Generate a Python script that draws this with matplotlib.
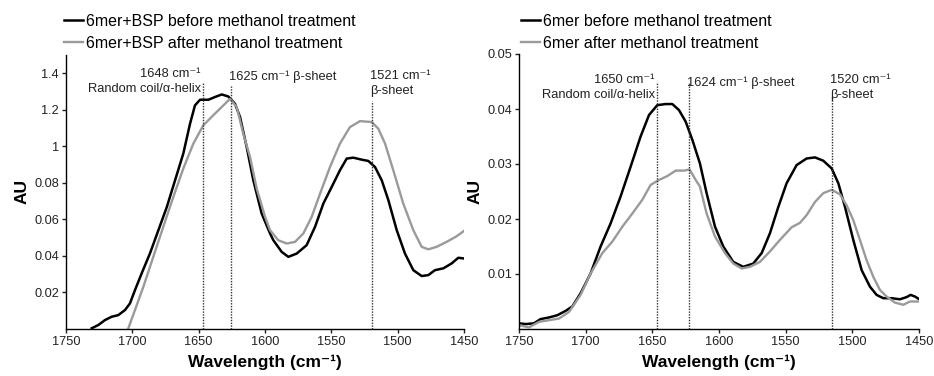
import matplotlib
matplotlib.use("Agg")
import matplotlib.pyplot as plt

plt.rcParams['font.family'] = ['Liberation Sans', 'DejaVu Sans']

# left panel: 6mer+BSP (y values = printed value / 10 above 0.08, tick labels keep the printed text)
bsp_before_x = [1730.6, 1725.6, 1720.6, 1715.6, 1710.6, 1705.5, 1701.8, 1698, 1693, 1686.7,
                1680.4, 1674, 1667.8, 1661.6, 1656.5, 1652.8, 1649, 1642.7, 1637.7, 1632.6,
                1627.7, 1622.6, 1618.8, 1613.8, 1608.8, 1602.5, 1596.2, 1593.7, 1587.4, 1582.4,
                1576.1, 1568.6, 1562.3, 1556, 1549.7, 1543.5, 1538.4, 1533.4, 1527.1, 1522.1,
                1517.1, 1512, 1507, 1500.7, 1494.5, 1488.2, 1481.9, 1476.9, 1471.9, 1465.6,
                1459.3, 1454.3, 1450]
bsp_before_y = [0.0004, 0.0022, 0.0049, 0.0067, 0.0076, 0.0104, 0.014, 0.0213, 0.0304, 0.0414,
                0.054, 0.0668, 0.0814, 0.096, 0.1124, 0.1224, 0.1255, 0.1255, 0.127, 0.1284,
                0.1273, 0.1233, 0.116, 0.0996, 0.0814, 0.0632, 0.0523, 0.0486, 0.0422, 0.0395,
                0.0413, 0.0459, 0.0559, 0.0687, 0.0778, 0.0869, 0.0933, 0.0938, 0.0927, 0.092,
                0.0887, 0.0814, 0.0705, 0.0541, 0.0413, 0.0322, 0.029, 0.0295, 0.0322, 0.0332,
                0.0359, 0.039, 0.0386]
bsp_after_x = [1703, 1698, 1691.7, 1684.2, 1676.7, 1669.1, 1661.6, 1654, 1646.5, 1639,
               1631.4, 1626.4, 1621.3, 1616.4, 1611.3, 1606.3, 1600, 1596.2, 1590, 1583.6,
               1577.4, 1571.1, 1564.8, 1558.5, 1551, 1543.5, 1536, 1528.4, 1519.6, 1514.6,
               1509.5, 1503.3, 1495.8, 1488.2, 1481.9, 1476.9, 1470.6, 1463.1, 1455.5, 1450]
bsp_after_y = [0.0004, 0.0104, 0.0231, 0.0395, 0.0559, 0.0723, 0.0878, 0.1015, 0.1115, 0.117,
               0.1224, 0.126, 0.1215, 0.107, 0.0942, 0.077, 0.0615, 0.0541, 0.0486, 0.0468,
               0.0477, 0.0523, 0.0614, 0.0741, 0.0887, 0.1015, 0.1105, 0.1138, 0.1133, 0.1097,
               0.1015, 0.0869, 0.0687, 0.0541, 0.045, 0.0436, 0.045, 0.0477, 0.0508, 0.0537]
left_yticks = [0.02, 0.04, 0.06, 0.08, 0.10, 0.12, 0.14]
left_ylabels = ['0.02', '0.04', '0.06', '0.08', '1', '1.2', '1.4']

# right panel: 6mer
mer_before_x = [1750, 1745, 1738.8, 1733.8, 1727.5, 1721.3, 1715, 1710, 1703.8, 1696.3,
                1688.8, 1681.3, 1673.8, 1666.3, 1658.8, 1652.5, 1646.3, 1640, 1635, 1630,
                1625, 1620, 1614.3, 1609.3, 1603, 1596.8, 1589.3, 1581.8, 1574.3, 1568,
                1561.8, 1555.5, 1549.3, 1541.8, 1534.3, 1528, 1521.8, 1515.5, 1510.5, 1505.5,
                1499.3, 1493, 1486.8, 1481.8, 1476.8, 1470.5, 1464.3, 1459.3, 1456.3, 1453, 1449.8]
mer_before_y = [0.00103, 0.0009, 0.00103, 0.0018, 0.0021, 0.0025, 0.0033, 0.0041, 0.0065, 0.0101,
                0.015, 0.0192, 0.0241, 0.0295, 0.035, 0.0389, 0.0407, 0.0409, 0.0409, 0.0398,
                0.0377, 0.0344, 0.0301, 0.0247, 0.0186, 0.015, 0.0122, 0.0113, 0.0119, 0.0138,
                0.0174, 0.0222, 0.0265, 0.0298, 0.031, 0.0312, 0.0306, 0.0292, 0.0265, 0.0222,
                0.0162, 0.0107, 0.0077, 0.0062, 0.0056, 0.0056, 0.0054, 0.0058, 0.0062, 0.0059, 0.0054]
mer_after_x = [1750, 1742.5, 1735, 1727.5, 1720, 1712.5, 1703.8, 1696.3, 1687.5, 1680,
               1672.5, 1665, 1657.5, 1651.3, 1645, 1638.8, 1632.5, 1626.3, 1622, 1617.5,
               1614.3, 1609.3, 1603, 1595.5, 1589.3, 1583, 1576.8, 1569.3, 1561.8, 1554.3,
               1545.5, 1539.3, 1534.3, 1528, 1521.8, 1515.5, 1509.3, 1504.3, 1499.3, 1494.3,
               1489.3, 1484.3, 1479.3, 1474.3, 1468, 1461.8, 1456.8, 1449.8]
mer_after_y = [0.0007, 0.0003, 0.0013, 0.0016, 0.0019, 0.0031, 0.0062, 0.0101, 0.0138, 0.0159,
               0.0186, 0.021, 0.0235, 0.0262, 0.0271, 0.0278, 0.0288, 0.0288, 0.029, 0.0271,
               0.0259, 0.021, 0.0168, 0.0138, 0.0119, 0.011, 0.0113, 0.0122, 0.0141, 0.0162,
               0.0185, 0.0193, 0.0207, 0.0231, 0.0247, 0.0253, 0.0245, 0.0225, 0.0198, 0.0162,
               0.0125, 0.0095, 0.0071, 0.0059, 0.0048, 0.0044, 0.005, 0.005]
right_yticks = [0.01, 0.02, 0.03, 0.04, 0.05]
right_ylabels = ['0.01', '0.02', '0.03', '0.04', '0.05']

xticks = [1750, 1700, 1650, 1600, 1550, 1500, 1450]

# marker lines: (where drawn, top of line)
left_marks = [(1647, 0.135), (1626, 0.133), (1519, 0.125)]
right_marks = [(1646.5, 0.0449), (1622.5, 0.0449), (1515, 0.0422)]

fig = plt.figure(figsize=(9.34, 3.76), dpi=100)
axL = fig.add_axes([66 / 934, 47 / 376, 398 / 934, 274 / 376])
axR = fig.add_axes([519 / 934, 47 / 376, 400 / 934, 275 / 376])

grey = '#9a9a9a'
for ax in (axL, axR):
    ax.spines['top'].set_visible(False)
    ax.spines['right'].set_visible(False)
    ax.spines['left'].set_linewidth(1.0)
    ax.spines['bottom'].set_linewidth(1.0)
    ax.set_xlim(1750, 1450)
    ax.set_xticks(xticks)
    ax.tick_params(labelsize=9.2, length=3, width=1, pad=2, colors='#222222')
    ax.set_xlabel('Wavelength (cm⁻¹)', fontsize=12.5, fontweight='bold', labelpad=5)
    ax.set_ylabel('AU', fontsize=12.5, fontweight='bold', labelpad=3)

l1, = axL.plot(bsp_before_x, bsp_before_y, color='black', lw=1.8)
l2, = axL.plot(bsp_after_x, bsp_after_y, color=grey, lw=1.7)
axL.set_ylim(0, 0.15)
axL.set_yticks(left_yticks)
axL.set_yticklabels(left_ylabels)

r1, = axR.plot(mer_before_x, mer_before_y, color='black', lw=1.8)
r2, = axR.plot(mer_after_x, mer_after_y, color=grey, lw=1.7)
axR.set_ylim(0, 0.05)
axR.set_yticks(right_yticks)
axR.set_yticklabels(right_ylabels)

for x, top in left_marks:
    axL.plot([x, x], [0, top], color='#333333', lw=1, ls=(0, (1, 1)))
for x, top in right_marks:
    axR.plot([x, x], [0, top], color='#333333', lw=1, ls=(0, (1, 1)))

ann = dict(fontsize=9.3, color='#222222')
axL.text(1648.5, 0.1395, '1648 cm⁻¹', ha='right', va='center', **ann)
axL.text(1648.5, 0.1315, 'Random coil/α-helix', ha='right', va='center', **ann)
axL.text(1627, 0.138, '1625 cm⁻¹ β-sheet', ha='left', va='center', **ann)
axL.text(1521, 0.1385, '1521 cm⁻¹', ha='left', va='center', **ann)
axL.text(1521, 0.1305, 'β-sheet', ha='left', va='center', **ann)

axR.text(1648, 0.0452, '1650 cm⁻¹', ha='right', va='center', **ann)
axR.text(1648, 0.0425, 'Random coil/α-helix', ha='right', va='center', **ann)
axR.text(1624, 0.0447, '1624 cm⁻¹ β-sheet', ha='left', va='center', **ann)
axR.text(1516.5, 0.0452, '1520 cm⁻¹', ha='left', va='center', **ann)
axR.text(1516.5, 0.0425, 'β-sheet', ha='left', va='center', **ann)

legkw = dict(loc='upper left', frameon=False, fontsize=11.5, handlelength=1.2,
             handletextpad=0.15, labelspacing=0.42, borderpad=0, borderaxespad=0)
fig.legend([l1, l2], ['6mer+BSP before methanol treatment', '6mer+BSP after methanol treatment'],
           bbox_to_anchor=(64 / 934, 1 - 14 / 376), **legkw)
fig.legend([r1, r2], ['6mer before methanol treatment', '6mer after methanol treatment'],
           bbox_to_anchor=(521 / 934, 1 - 14 / 376), **legkw)

fig.savefig('out.png', dpi=100)
